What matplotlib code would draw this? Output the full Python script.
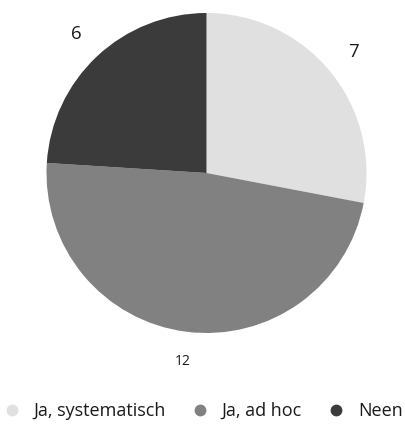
import matplotlib
matplotlib.use('Agg')
import matplotlib.pyplot as plt
from matplotlib.lines import Line2D

labels = ["Ja, systematisch", "Ja, ad hoc", "Neen"]
values = [7, 12, 6]
colors = ["#e0e0e0", "#808180", "#3a3b3a"]

plt.rcParams['font.family'] = ['Open Sans', 'DejaVu Sans']

fig = plt.figure(figsize=(4.06, 4.24), dpi=100)
ax = fig.add_axes([46.5 / 406, (424 - 333) / 424, 320 / 406, 320 / 424])

wedges, texts = ax.pie(values, colors=colors, startangle=90, counterclock=False,
                       labels=[str(v) for v in values], labeldistance=1.19,
                       textprops=dict(fontsize=13.5, color='#1a1a1a'))
texts[1].set_fontsize(10)
for t in texts:
    t.set_ha('center')
    t.set_va('center')
ax.set_xlim(-1, 1)
ax.set_ylim(-1, 1)
ax.set_aspect('equal')

handles = [Line2D([], [], marker='o', linestyle='none', markersize=8.5,
                  markerfacecolor=c, markeredgecolor='none', label=l)
           for c, l in zip(colors, labels)]
fig.legend(handles=handles, loc='center', bbox_to_anchor=(0.5, 1 - 411 / 424),
           ncol=3, frameon=False, fontsize=13, handletextpad=0.75,
           columnspacing=1.45, labelcolor='#1a1a1a', handlelength=0.9)

fig.savefig('out.png', dpi=100, facecolor='white')
